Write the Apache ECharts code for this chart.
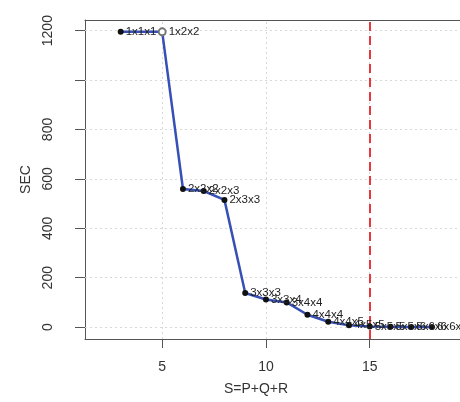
<!DOCTYPE html>
<html>
<head>
<meta charset="utf-8">
<script src="https://cdn.jsdelivr.net/npm/echarts@6/dist/echarts.min.js"></script>
<style>html,body{margin:0;padding:0;background:#fff}#c{width:460px;height:402px}</style>
</head>
<body>
<div id="c"></div>
<script>
const sValues = [3, 5, 6, 7, 8, 9, 10, 11, 12, 13, 14, 15, 16, 17, 18];
const secValues = [1195, 1195, 559, 551, 515, 138, 112, 100, 50, 22, 8, 3, 1.5, 1, 0.5];
const pointLabels = ['1x1x1','1x2x2','2x2x2','2x2x3','2x3x3','3x3x3','3x3x4','3x4x4','4x4x4','4x4x5','4x5x5','5x5x5','5x5x6','5x6x6','6x6x6'];
const xTicks = [5, 10, 15];
const yTicks = [0, 200, 400, 600, 800, 1000, 1200];
const yTickLabels = [0, 200, 400, 600, 800, 1200];
const cutoff = 15;

const chart = echarts.init(document.getElementById('c'));
const font = 'Liberation Sans, Arial, sans-serif';
const data = sValues.map((s, i) => {
  const d = {value: [s, secValues[i]], name: pointLabels[i]};
  if (s === 5) {
    d.symbol = 'emptyCircle';
    d.symbolSize = 7;
    d.itemStyle = {color: '#777', borderColor: '#777', borderWidth: 1.2};
  }
  return d;
});
const frameLine = {show: true, onZero: false, lineStyle: {color: '#555', width: 1}};
chart.setOption({
  animation: false,
  backgroundColor: '#fff',
  grid: {left: 85, top: 20, right: 0, bottom: 63, show: false},
  xAxis: [{
    type: 'value', min: 1.28, max: 19.35,
    name: 'S=P+Q+R', nameLocation: 'middle', nameGap: 43,
    nameTextStyle: {fontFamily: font, fontSize: 14, color: '#333', padding: [0, 33, 0, 0]},
    axisLine: frameLine,
    axisTick: {show: true, inside: false, length: 9, customValues: xTicks, lineStyle: {color: '#555'}},
    axisLabel: {customValues: xTicks, margin: 21, fontFamily: font, fontSize: 14, color: '#333', formatter: v => String(v)},
    splitLine: {show: false}
  }, {
    type: 'value', min: 1.28, max: 19.35, position: 'top',
    axisLine: frameLine, axisTick: {show: false}, axisLabel: {show: false}, splitLine: {show: false}
  }],
  yAxis: {
    type: 'value', min: -48, max: 1243,
    name: 'SEC', nameLocation: 'middle', nameGap: 43, nameRotate: 90,
    nameTextStyle: {fontFamily: font, fontSize: 14, color: '#333'},
    axisLine: frameLine,
    axisTick: {show: true, inside: false, length: 10, customValues: yTicks, lineStyle: {color: '#555'}},
    axisLabel: {customValues: yTickLabels, rotate: 90, margin: 30, fontFamily: font, fontSize: 14, color: '#333', formatter: v => String(v)},
    splitLine: {show: false}
  },
  series: [
    {
      type: 'line', data: [], z: 1, silent: true,
      markLine: {
        silent: true, symbol: 'none', animation: false,
        label: {show: false},
        lineStyle: {color: '#d8d8d8', type: [2, 3], width: 1},
        data: xTicks.map(v => ({xAxis: v})).concat(yTicks.map(v => ({yAxis: v})))
      }
    },
    {
      type: 'line', data: [], z: 2, silent: true,
      markLine: {
        silent: true, symbol: 'none', animation: false,
        label: {show: false},
        lineStyle: {color: '#e8373d', type: [9, 5], width: 2},
        data: [{xAxis: cutoff}]
      }
    },
    {
      type: 'line', data: data, z: 5,
      symbol: 'circle', symbolSize: 6,
      itemStyle: {color: '#111'},
      lineStyle: {color: '#3650b5', width: 2.5},
      label: {show: true, position: 'right', distance: 2, offset: [0, 3], formatter: p => p.name,
              fontFamily: font, fontSize: 11.5, color: '#222'},
      labelLayout: {hideOverlap: false}
    }
  ]
});
</script>
</body>
</html>
